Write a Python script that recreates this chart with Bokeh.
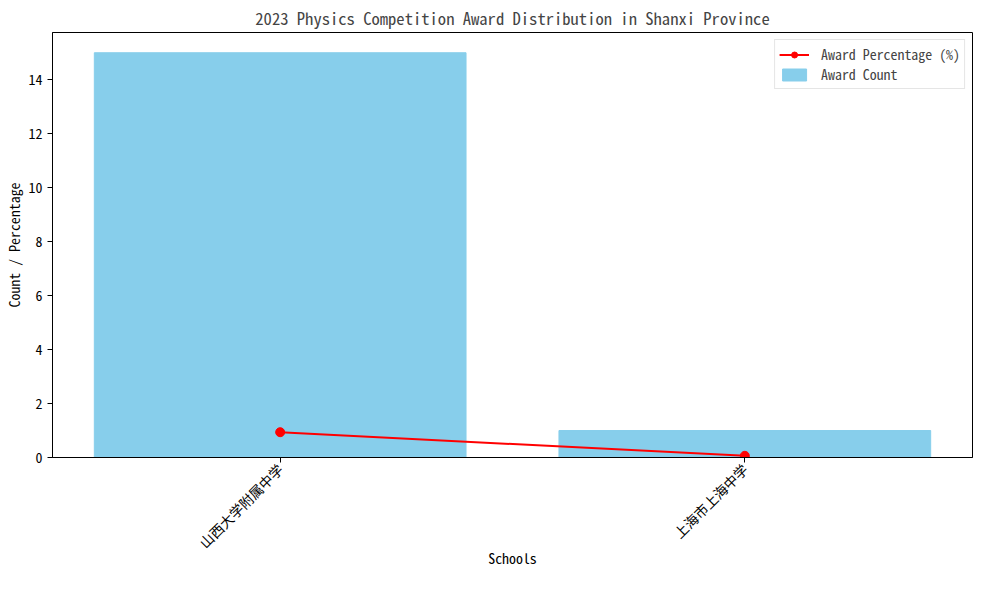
import numpy as np
from bokeh.plotting import figure
from bokeh.models import (ColumnDataSource, Range1d, FixedTicker, Legend, LegendItem)
from bokeh.embed import file_html
from bokeh.resources import INLINE

schools = ["山西大学附属中学", "上海市上海中学"]
award_count = [15, 1]
award_pct = [0.9375, 0.0625]

FONT = "Noto Sans Mono CJK SC"

xs = list(range(len(schools)))
src = ColumnDataSource(dict(x=xs, count=award_count, pct=award_pct))

p = figure(width=973, height=574, output_backend="svg", toolbar_location=None,
           x_range=Range1d(-0.49, len(schools) - 1 + 0.49),
           y_range=Range1d(0, 15.75),
           title="2023 Physics Competition Award Distribution in Shanxi Province",
           min_border_left=44, min_border_right=1, min_border_top=23, min_border_bottom=117)

bars = p.vbar(x="x", top="count", width=0.8, source=src, color="#87CEEB")
line = p.line(x="x", y="pct", source=src, line_color="red", line_width=2)
dots = p.scatter(x="x", y="pct", source=src, size=9, color="red")

p.title.align = "center"
p.title.text_font = FONT
p.title.text_font_size = "16.6px"
p.title.text_font_style = "normal"
p.title.offset = 0
p.title.standoff = 6

p.xgrid.visible = False
p.ygrid.visible = False
p.outline_line_color = "black"
p.outline_line_width = 1
p.outline_line_alpha = 1

p.xaxis.ticker = FixedTicker(ticks=xs)
p.xaxis.major_label_overrides = {i: s for i, s in enumerate(schools)}
p.xaxis.major_label_orientation = np.pi / 4
p.yaxis.ticker = FixedTicker(ticks=[0, 2, 4, 6, 8, 10, 12, 14])
p.xaxis.axis_label = "Schools"
p.yaxis.axis_label = "Count / Percentage"

for ax in (p.xaxis[0], p.yaxis[0]):
    ax.axis_line_color = "black"
    ax.major_tick_line_color = "black"
    ax.minor_tick_line_color = None
    ax.major_tick_out = 5
    ax.major_tick_in = 0
    ax.major_label_text_font = FONT
    ax.major_label_text_font_size = "13.9px"
    ax.major_label_text_color = "black"
    ax.axis_label_text_font = FONT
    ax.axis_label_text_font_size = "13.9px"
    ax.axis_label_text_font_style = "normal"
    ax.axis_label_text_color = "black"
    ax.major_label_standoff = 5
p.yaxis.axis_label_standoff = 2
p.xaxis.major_label_standoff = 4
p.xaxis.axis_label_standoff = -14

legend = Legend(items=[LegendItem(label="Award Percentage (%)", renderers=[line, dots]),
                       LegendItem(label="Award Count", renderers=[bars])],
                location="top_right", margin=7, padding=4, spacing=-3,
                label_text_font=FONT, label_text_font_size="13.9px",
                glyph_width=30, glyph_height=15, label_standoff=12, label_height=15,
                border_line_color="#cccccc", border_line_width=1,
                background_fill_alpha=0.8)
p.add_layout(legend)

open("out.html", "w").write(file_html(p, INLINE))
